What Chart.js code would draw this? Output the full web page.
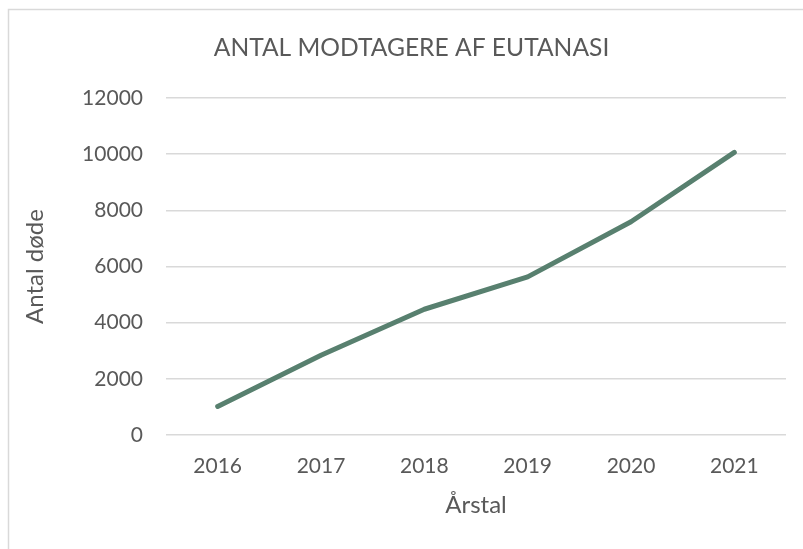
<!DOCTYPE html>
<html>
<head>
<meta charset="utf-8">
<script src="https://cdn.jsdelivr.net/npm/chart.js@4"></script>
<style>
  html, body { margin: 0; padding: 0; background: #ffffff; }
  #wrap { width: 803px; height: 549px; }
</style>
</head>
<body>
<div id="wrap"><canvas id="c" width="803" height="549"></canvas></div>
<script>
const years = ['2016', '2017', '2018', '2019', '2020', '2021'];
const deaths = [1018, 2838, 4478, 5631, 7595, 10064];
const chartTitle = 'ANTAL MODTAGERE AF EUTANASI';
const yTitle = 'Antal døde';
const xTitle = 'Årstal';

const FONT = "Lato, 'Open Sans', sans-serif";
const TEXT = '#595959';

const borderPlugin = {
  id: 'outerBorder',
  beforeDraw(chart) {
    const ctx = chart.ctx;
    ctx.save();
    ctx.strokeStyle = '#d9d9d9';
    ctx.lineWidth = 1.5;
    ctx.strokeRect(8.5, 9.5, 1000, 1000);
    ctx.restore();
  }
};

new Chart(document.getElementById('c'), {
  type: 'line',
  data: {
    labels: years,
    datasets: [{
      data: deaths,
      borderColor: '#58806f',
      borderWidth: 5,
      borderCapStyle: 'round',
      borderJoinStyle: 'round',
      pointRadius: 0,
      tension: 0,
      fill: false
    }]
  },
  options: {
    responsive: false,
    animation: false,
    layout: { padding: { left: 20, right: 0, top: 0, bottom: 0 } },
    plugins: {
      legend: { display: false },
      tooltip: { enabled: false },
      title: {
        display: true,
        text: chartTitle,
        color: TEXT,
        font: { family: FONT, size: 24.6, weight: 'normal' },
        padding: { top: 33.2, bottom: 35.3 }
      }
    },
    scales: {
      x: {
        offset: true,
        grid: { display: false, drawTicks: false },
        border: { display: false },
        ticks: { color: TEXT, font: { family: FONT, size: 21 }, padding: 18.4, maxRotation: 0 },
        title: { display: true, text: xTitle, color: TEXT, font: { family: FONT, size: 24 }, padding: { top: 0, bottom: 29.6 } },
        afterFit(s) { s.width = s.width; s.height = 114; }
      },
      y: {
        min: 0, max: 12000,
        ticks: { stepSize: 2000, color: TEXT, font: { family: FONT, size: 21 }, padding: 23,
                 callback: (v) => String(v) },
        grid: { color: '#d9d9d9', lineWidth: 1.5, drawTicks: false },
        border: { display: false },
        title: { display: true, text: yTitle, color: TEXT, font: { family: FONT, size: 24 }, padding: { top: 0.6, bottom: 0 } },
        afterFit(s) { s.width = 146; }
      },
      y2: {
        position: 'right',
        display: true,
        ticks: { display: false },
        grid: { display: false, drawTicks: false },
        border: { display: false },
        afterFit(s) { s.width = 17; }
      }
    }
  },
  plugins: [borderPlugin]
});
</script>
</body>
</html>
